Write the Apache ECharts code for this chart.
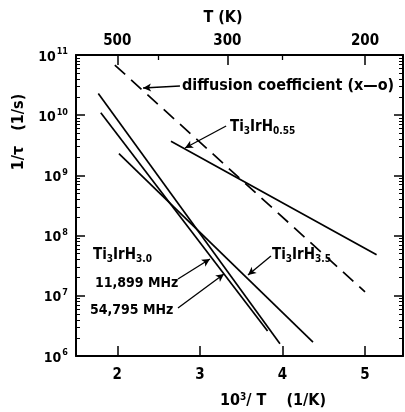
<!DOCTYPE html>
<html>
<head>
<meta charset="utf-8">
<script src="https://cdn.jsdelivr.net/npm/echarts@6/dist/echarts.min.js"></script>
<style>html,body{margin:0;padding:0;background:#fff}#c{width:405px;height:412px}</style>
</head>
<body>
<div id="c"></div>
<script>
// ---- data ----
const xTicks = [2, 3, 4, 5];                 // 10^3/T (1/K)
const tempMajor = [500, 300, 200];           // T (K), labelled
const tempMinor = [400, 250];                // T (K), short ticks
const yDecades = [6, 7, 8, 9, 10, 11];       // exponents of 1/tau

const diffX = [1.97, 5.0];   const diffRate = [6.8e10, 1.16e7];   // diffusion coefficient (dashed)
const h055X = [2.65, 5.14];  const h055Rate = [3.7e9, 4.8e7];     // Ti3IrH0.55
const h35X  = [2.02, 4.37];  const h35Rate  = [2.3e9, 1.7e6];     // Ti3IrH3.5
const h30aX = [1.77, 3.97];  const h30aRate = [2.3e10, 1.6e6];    // Ti3IrH3.0 54,795 MHz
const h30bX = [1.80, 3.82];  const h30bRate = [1.1e10, 2.6e6];    // Ti3IrH3.0 11,899 MHz

const FONT = 'DejaVu Sans Condensed';
const lg = v => Math.log10(v);
const pts = (xs, rs) => xs.map((x, i) => [x, lg(rs[i])]);
const minorVals = [];
for (let d = 6; d < 11; d++) for (let k = 2; k <= 9; k++) minorVals.push(d + Math.log10(k));

const chart = echarts.init(document.getElementById('c'), null, {renderer: 'canvas'});
const XMIN = 1.5, XMAX = 5.46;
const axisLine = {show: true, lineStyle: {color: '#000', width: 2}};
const arrowLine = (a, b) => [{coord: a}, {coord: b}];
const mlStyle = {symbol: ['none', 'arrow'], symbolSize: [6, 8], silent: true, label: {show: false},
  lineStyle: {color: '#000', width: 1.3, type: 'solid'}, animation: false};

function lineSeries(name, data, dashed, marks) {
  const s = {name, type: 'line', data, symbol: 'none', xAxisIndex: 0, yAxisIndex: 0,
    lineStyle: {color: '#000', width: 1.7, type: dashed ? [14, 8] : 'solid'}, animation: false};
  if (marks) s.markLine = Object.assign({data: marks}, mlStyle);
  return s;
}

const T = (size, extra) => Object.assign({fontSize: size, fontFamily: FONT, fontWeight: 'bold', color: '#000'}, extra || {});
function txt(x, y, text, size, align, extra) {
  return Object.assign({type: 'text', x, y, style: {text, fontSize: size, fontFamily: FONT, fontWeight: 'bold',
    align: align || 'left', verticalAlign: 'middle', fill: '#000'}}, extra || {});
}
function label(x, y, text) {
  return {type: 'text', x, y, style: {text, rich: {m: T(15), s: T(10, {padding: [8, 0, 0, 0]})},
    align: 'left', verticalAlign: 'middle', fill: '#000'}};
}

chart.setOption({
  backgroundColor: '#fff',
  animation: false,
  grid: {left: 76, top: 55, width: 327, height: 301, containLabel: false},
  xAxis: [
    {type: 'value', position: 'bottom', min: XMIN, max: XMAX, axisLine,
      axisTick: {show: true, inside: true, length: 10, customValues: xTicks, lineStyle: {color: '#000', width: 1.5}},
      axisLabel: {customValues: xTicks, color: '#000', fontSize: 15, fontFamily: FONT, fontWeight: 'bold', margin: 12},
      splitLine: {show: false}},
    {type: 'value', position: 'top', min: XMIN, max: XMAX, axisLine,
      axisTick: {show: true, inside: true, length: 10, customValues: tempMajor.map(t => 1000 / t), lineStyle: {color: '#000', width: 1.5}},
      axisLabel: {customValues: tempMajor.map(t => 1000 / t), formatter: v => String(Math.round(1000 / v)),
        color: '#000', fontSize: 15, fontFamily: FONT, fontWeight: 'bold', margin: 6},
      splitLine: {show: false}},
    {type: 'value', position: 'top', min: XMIN, max: XMAX, axisLine: {show: false},
      axisTick: {show: true, inside: true, length: 5, customValues: tempMinor.map(t => 1000 / t), lineStyle: {color: '#000', width: 1.3}},
      axisLabel: {show: false}, splitLine: {show: false}}
  ],
  yAxis: [
    {type: 'value', position: 'left', min: 6, max: 11, interval: 1, axisLine,
      axisTick: {show: true, inside: true, length: 9, lineStyle: {color: '#000', width: 1.5}},
      axisLabel: {color: '#000', margin: 8, formatter: v => '{b|10}{s|' + v + '}',
        rich: {b: T(14, {padding: [4, 0, 0, 0]}), s: T(9, {padding: [0, 0, 6, 1]})}},
      splitLine: {show: false}},
    {type: 'value', position: 'left', min: 6, max: 11, axisLine: {show: false},
      axisTick: {show: true, inside: true, length: 4, customValues: minorVals, lineStyle: {color: '#000', width: 1}},
      axisLabel: {show: false}, splitLine: {show: false}},
    {type: 'value', position: 'right', min: 6, max: 11, interval: 1, axisLine,
      axisTick: {show: true, inside: true, length: 9, lineStyle: {color: '#000', width: 1.5}},
      axisLabel: {show: false}, splitLine: {show: false}},
    {type: 'value', position: 'right', min: 6, max: 11, axisLine: {show: false},
      axisTick: {show: true, inside: true, length: 4, customValues: minorVals, lineStyle: {color: '#000', width: 1}},
      axisLabel: {show: false}, splitLine: {show: false}}
  ],
  series: [
    lineSeries('diffusion coefficient', pts(diffX, diffRate), true,
      [arrowLine([2.759, 10.485], [2.312, 10.452])]),
    lineSeries('Ti3IrH0.55', pts(h055X, h055Rate), false,
      [arrowLine([3.318, 9.821], [2.820, 9.455])]),
    lineSeries('Ti3IrH3.5', pts(h35X, h35Rate), false,
      [arrowLine([3.861, 7.661], [3.583, 7.346])]),
    lineSeries('Ti3IrH3.0 54,795 MHz', pts(h30aX, h30aRate), false,
      [arrowLine([2.735, 6.797], [3.292, 7.362])]),
    lineSeries('Ti3IrH3.0 11,899 MHz', pts(h30bX, h30bRate), false,
      [arrowLine([2.735, 7.279], [3.122, 7.611])])
  ],
  graphic: [
    txt(223, 18, 'T (K)', 16, 'center'),
    {type: 'text', x: 220, y: 401, style: {text: '{m|10}{p|3}{m|/ T    (1/K)}', align: 'left', verticalAlign: 'middle',
      rich: {m: T(16), p: T(10, {padding: [0, 0, 7, 0]})}}},
    txt(19, 132, '1/τ   (1/s)', 16, 'center', {rotation: Math.PI / 2}),
    txt(182, 86, 'diffusion coefficient (x—o)', 16, 'left'),
    label(230, 127, '{m|Ti}{s|3}{m|IrH}{s|0.55}'),
    label(272, 255, '{m|Ti}{s|3}{m|IrH}{s|3.5}'),
    label(93, 255, '{m|Ti}{s|3}{m|IrH}{s|3.0}'),
    txt(95, 283, '11,899 MHz', 14, 'left'),
    txt(90, 310, '54,795 MHz', 14, 'left')
  ]
});
</script>
</body>
</html>
